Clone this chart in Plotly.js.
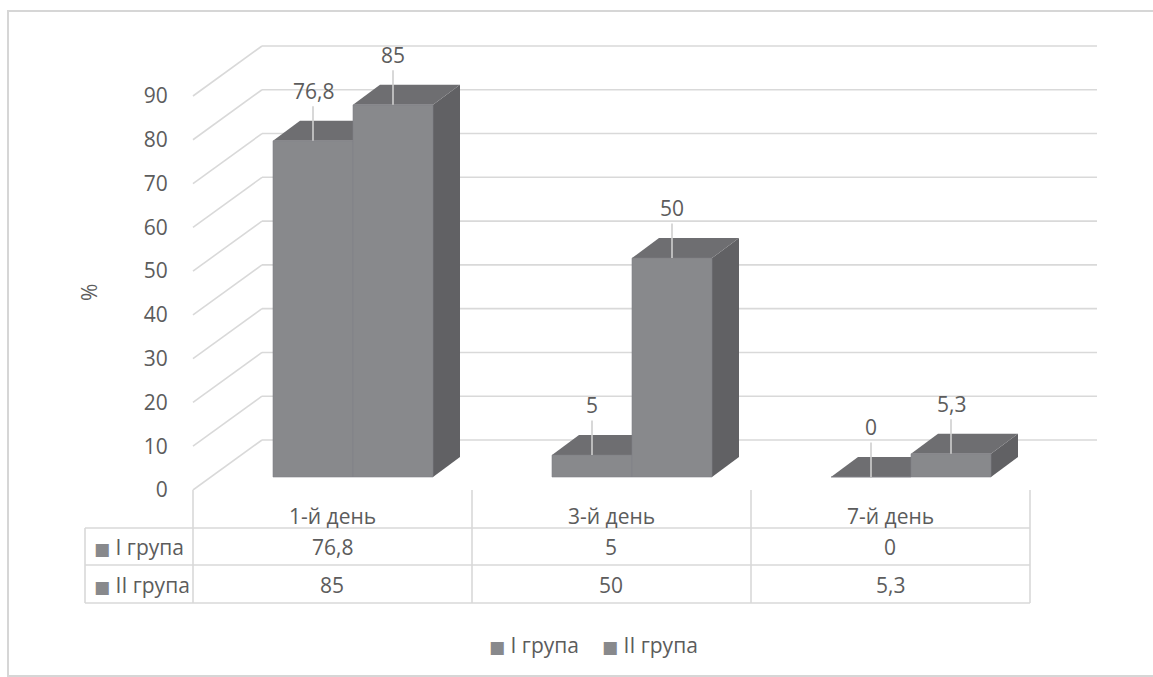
<!DOCTYPE html>
<html>
<head>
<meta charset="utf-8">
<script src="https://cdn.plot.ly/plotly-3.0.1.min.js"></script>
<style>
  html, body { margin: 0; padding: 0; background: #ffffff; }
  #chart { width: 1153px; height: 677px; }
</style>
</head>
<body>
<div id="chart"></div>
<script>
// ---- data ----
const categories = ['1-й день', '3-й день', '7-й день'];
const seriesNames = ['I група', 'II група'];
const groupI = [76.8, 5, 0];
const groupII = [85, 50, 5.3];
const yTickValues = [0, 10, 20, 30, 40, 50, 60, 70, 80, 90];
const yTickLabels = ['0', '10', '20', '30', '40', '50', '60', '70', '80', '90'];

// ---- look ----
const FONT = '"Open Sans", "DejaVu Sans", sans-serif';
const TEXT = '#5c5c5c';
const FRONT = '#88898c';
const TOP = '#6e6e71';
const SIDE = '#616164';
const GRID = '#d9d9d9';

// ---- geometry of the pseudo-3D box ----
const W = 1153, H = 677;
const M = { l: 193, r: 53, t: 30, b: 187 };
const plotW = W - M.l - M.r;
const plotH = H - M.t - M.b;
const pxPerUnit = 4.378;          // vertical pixels per percent
const catPx = 279;                // horizontal pixels per category
const firstCatPx = 160;           // plot-left to first category centre
const frontLift = 13;             // bar front plane above the front floor edge
const backShift = { x: 69, y: 50 };  // back wall offset from the front edge
const depth = { x: 27, y: 20 };      // bar depth as drawn
const groupPx = 160;              // width of a pair of bars

const xRange = [-firstCatPx / catPx, (plotW - firstCatPx) / catPx];
const yTickRange = [0, plotH / pxPerUnit];
const yBarRange = [-frontLift / pxPerUnit, (plotH - frontLift) / pxPerUnit];
const bargap = 1 - groupPx / catPx;
const bw = (1 - bargap) / 2;
const dx = depth.x / catPx, dy = depth.y / pxPerUnit;
const backDy = backShift.y / pxPerUnit;
const colOffset = -21 / catPx;     // table columns sit left of the bar pairs

const pxX = px => (px - M.l) / plotW;
const pxY = py => (M.t + plotH - py) / plotH;
const fmt = v => String(v).replace('.', ',');
const catIdx = categories.map((_, i) => i);
const series = [groupI, groupII];

// ---- traces: bar front faces ----
const traces = series.map((vals, s) => ({
  type: 'bar',
  name: seriesNames[s],
  x: catIdx,
  y: vals,
  xaxis: 'x', yaxis: 'y',
  marker: { color: FRONT, line: { color: '#828286', width: 0.6 } },
  showlegend: false,
  hoverinfo: 'skip'
}));
traces.push({ type: 'scatter', x: [null], y: [null], xaxis: 'x', yaxis: 'y2',
  showlegend: false, hoverinfo: 'skip' });

const shapes = [];

// chart frame
shapes.push({ type: 'rect', xref: 'paper', yref: 'paper',
  x0: pxX(8), x1: pxX(1162), y0: pxY(11), y1: pxY(676),
  line: { color: '#d6d6d6', width: 2 }, fillcolor: 'rgba(0,0,0,0)', layer: 'below' });

// back wall gridlines and floor-to-wall diagonals
yTickValues.forEach(v => {
  shapes.push({ type: 'line', xref: 'paper', yref: 'y2',
    x0: pxX(M.l + backShift.x), x1: pxX(1097), y0: v + backDy, y1: v + backDy,
    line: { color: GRID, width: 1.6 }, layer: 'below' });
  shapes.push({ type: 'line', xref: 'paper', yref: 'y2',
    x0: 0, x1: pxX(M.l + backShift.x), y0: v, y1: v + backDy,
    line: { color: GRID, width: 1.6 }, layer: 'below' });
});

// bar top and side faces
catIdx.forEach(c => {
  series.forEach((vals, s) => {
    const v = vals[c];
    const x0 = c + (s - 1) * bw, x1 = x0 + bw;
    shapes.push({ type: 'path', xref: 'x', yref: 'y', layer: 'below',
      path: `M${x1},0 L${x1 + dx},${dy} L${x1 + dx},${v + dy} L${x1},${v} Z`,
      fillcolor: SIDE, line: { width: 0 } });
    shapes.push({ type: 'path', xref: 'x', yref: 'y', layer: 'below',
      path: `M${x0},${v} L${x1},${v} L${x1 + dx},${v + dy} L${x0 + dx},${v + dy} Z`,
      fillcolor: TOP, line: { width: 0 } });
  });
});

// data table grid
const colEdges = [0, 1, 2, 3].map(i => pxX(M.l) + (i * catPx) / plotW);
const rowLines = [528, 565, 603];
colEdges.forEach(xp => {
  shapes.push({ type: 'line', xref: 'paper', yref: 'paper',
    x0: xp, x1: xp, y0: pxY(490), y1: pxY(603),
    line: { color: GRID, width: 1.6 } });
});
shapes.push({ type: 'line', xref: 'paper', yref: 'paper',
  x0: pxX(85), x1: pxX(85), y0: pxY(528), y1: pxY(603),
  line: { color: GRID, width: 1.6 } });
rowLines.forEach(py => {
  shapes.push({ type: 'line', xref: 'paper', yref: 'paper',
    x0: pxX(85), x1: colEdges[3], y0: pxY(py), y1: pxY(py),
    line: { color: GRID, width: 1.6 } });
});

const annotations = [];
const textFont = { family: FONT, size: 21, color: TEXT };
const keyHtml = `<span style="color:${FRONT};font-family:'DejaVu Sans';font-size:17px">■</span> `;

// data labels with leader lines
catIdx.forEach(c => {
  series.forEach((vals, s) => {
    annotations.push({ xref: 'x', yref: 'y', x: c + (s - 0.5) * bw, y: vals[c],
      text: fmt(vals[c]), showarrow: true, arrowhead: 0, arrowwidth: 1.6,
      arrowcolor: '#cfcfcf', ax: 0, ay: -50, font: textFont });
  });
});

// table: category header and value rows
const rowY = [547, 585];
catIdx.forEach(c => {
  annotations.push({ xref: 'x', yref: 'paper', x: c + colOffset, y: pxY(516),
    xanchor: 'center', yanchor: 'middle',
    text: categories[c], showarrow: false, font: textFont });
  series.forEach((vals, s) => {
    annotations.push({ xref: 'x', yref: 'paper', x: c + colOffset, y: pxY(rowY[s]),
      xanchor: 'center', yanchor: 'middle',
      text: fmt(vals[c]), showarrow: false, font: textFont });
  });
});
series.forEach((_, s) => {
  annotations.push({ xref: 'paper', yref: 'paper', x: pxX(92), y: pxY(rowY[s]),
    xanchor: 'left', yanchor: 'middle', showarrow: false, font: textFont,
    text: `${keyHtml}${seriesNames[s]}` });
});

// legend under the table
const legendX = [487, 600];
series.forEach((_, s) => {
  annotations.push({ xref: 'paper', yref: 'paper', x: pxX(legendX[s]), y: pxY(645),
    xanchor: 'left', yanchor: 'middle', showarrow: false, font: textFont,
    text: `${keyHtml}${seriesNames[s]}` });
});

// value axis title
annotations.push({ xref: 'paper', yref: 'paper', x: pxX(89), y: pxY(293),
  xanchor: 'center', yanchor: 'middle',
  text: '%', textangle: -90, showarrow: false, font: textFont });

const layout = {
  width: W, height: H,
  margin: M,
  paper_bgcolor: '#ffffff', plot_bgcolor: 'rgba(0,0,0,0)',
  barmode: 'group', bargap: bargap, bargroupgap: 0,
  showlegend: false,
  xaxis: { range: xRange, showgrid: false, zeroline: false, showline: false,
    showticklabels: false, ticks: '', fixedrange: true },
  yaxis: { range: yBarRange, showgrid: false, zeroline: false, showline: false,
    showticklabels: false, ticks: '', fixedrange: true },
  yaxis2: { overlaying: 'y', side: 'left', range: yTickRange,
    tickvals: yTickValues, ticktext: yTickLabels,
    showgrid: false, zeroline: false, showline: false,
    ticks: 'outside', ticklen: 20, tickcolor: 'rgba(0,0,0,0)',
    tickfont: textFont, fixedrange: true },
  shapes: shapes,
  annotations: annotations
};

Plotly.newPlot('chart', traces, layout, { staticPlot: true, displayModeBar: false });
</script>
</body>
</html>
